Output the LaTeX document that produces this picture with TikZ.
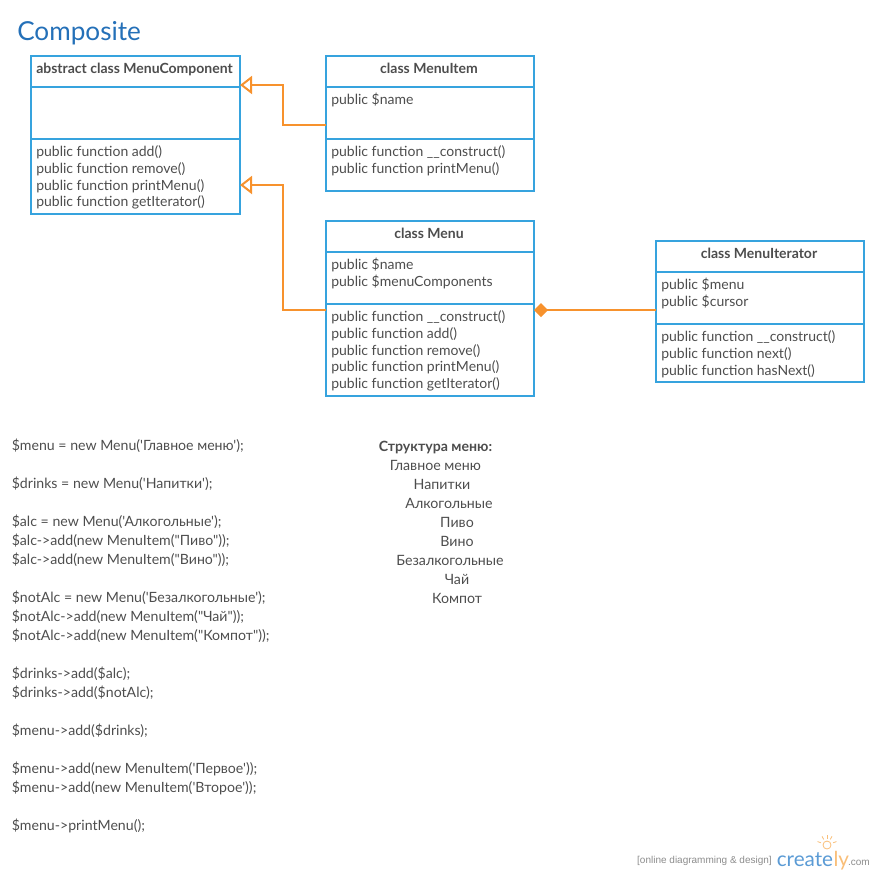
\documentclass[tikz,border=0pt]{standalone}
\usepackage{fontspec}
\setmainfont{Lato}[Ligatures=TeXOff]
\newfontfamily\logofont{Liberation Sans}
\usetikzlibrary{arrows.meta}
\definecolor{boxblue}{HTML}{36A3DE}
\definecolor{linkorange}{HTML}{F7922D}
\definecolor{txt}{HTML}{4D4D4D}
\definecolor{titleblue}{HTML}{2470B8}
\definecolor{logoblue}{HTML}{5B9BD5}
\definecolor{logoorange}{HTML}{F9BE78}
\tikzset{
  umlbox/.style={draw=boxblue,line width=1.5pt,fill=white,anchor=north west,inner sep=0pt,outer sep=0pt},
  divider/.style={draw=boxblue,line width=1.5pt},
  head/.style={anchor=base,font=\fontsize{10.5pt}{12pt}\selectfont\bfseries,text=txt,inner sep=0pt},
  body/.style={anchor=base west,font=\fontsize{10.5pt}{12pt}\selectfont,text=txt,inner sep=0pt},
  code/.style={anchor=base west,font=\fontsize{10.6pt}{12pt}\selectfont,text=txt,inner sep=0pt},
  ctr/.style={anchor=base,font=\fontsize{10.65pt}{12pt}\selectfont,text=txt,inner sep=0pt},
  gen/.style={draw=linkorange,line width=1.5pt,-{Triangle[open,fill=white,length=9pt,width=13.5pt,line width=1.5pt]}},
  comp/.style={draw=linkorange,line width=1.5pt,{Diamond[fill=linkorange,length=10.5pt,width=10.5pt]}-},
}
\begin{document}
\begin{tikzpicture}[x=0.75pt,y=-0.75pt]
\useasboundingbox (0,0) rectangle (875,875);
\node[anchor=base west,inner sep=0pt,text=titleblue,font=\fontsize{19.6pt}{22pt}\selectfont] (title) at (17,40) {Composite};
% MenuComponent
\node[umlbox,minimum width=156.75pt,minimum height=118.5pt] (mc) at (31,56) {};
\draw[divider] (31,87) -- (240,87) (31,139) -- (240,139);
\node[head] (mcH) at (134.5,73) {abstract class MenuComponent};
\node[body] (mc1) at (36,156) {public function add()};
\node[body] (mc2) at (36,173) {public function remove()};
\node[body] (mc3) at (36,190) {public function printMenu()};
\node[body] (mc4) at (36,206) {public function getIterator()};
% MenuItem
\node[umlbox,minimum width=156pt,minimum height=101.25pt] (item) at (326,56) {};
\draw[divider] (326,87) -- (534,87) (326,139) -- (534,139);
\node[head] (itemH) at (429,73) {class MenuItem};
\node[body] (item1) at (331,104) {public \$name};
\node[body] (item2) at (331,156) {public function \_\_construct()};
\node[body] (item3) at (331,173) {public function printMenu()};
% Menu
\node[umlbox,minimum width=156pt,minimum height=131.25pt] (menu) at (326,221) {};
\draw[divider] (326,252) -- (534,252) (326,304) -- (534,304);
\node[head] (menuH) at (429,238) {class Menu};
\node[body] (menu1) at (331,269) {public \$name};
\node[body] (menu2) at (331,286) {public \$menuComponents};
\node[body] (menu3) at (331,321) {public function \_\_construct()};
\node[body] (menu4) at (331,338) {public function add()};
\node[body] (menu5) at (331,355) {public function remove()};
\node[body] (menu6) at (331,371) {public function printMenu()};
\node[body] (menu7) at (331,388) {public function getIterator()};
% MenuIterator
\node[umlbox,minimum width=156pt,minimum height=105.75pt] (iter) at (656,241) {};
\draw[divider] (656,272) -- (864,272) (656,324) -- (864,324);
\node[head] (iterH) at (759,258) {class MenuIterator};
\node[body] (iter1) at (661,289) {public \$menu};
\node[body] (iter2) at (661,306) {public \$cursor};
\node[body] (iter3) at (661,341) {public function \_\_construct()};
\node[body] (iter4) at (661,358) {public function next()};
\node[body] (iter5) at (661,375) {public function hasNext()};
% connectors
\coordinate (mcTop) at (mc.east |- 0,85);
\coordinate (mcLow) at (mc.east |- 0,185);
\coordinate (itemW) at (item.west |- 0,125);
\coordinate (menuW) at (menu.west |- 0,310);
\coordinate (menuE) at (menu.east |- 0,310);
\coordinate (iterW) at (iter.west |- 0,310);
\draw[gen] (itemW) -- (283,125) -- (283,85) -- (mcTop);
\draw[gen] (menuW) -- (283,310) -- (283,185) -- (mcLow);
\draw[comp] (menuE) -- (iterW);
% code
\foreach \n/\yy/\t in {
 c1/450/{\$menu = new Menu('Главное меню');},
 c2/488/{\$drinks = new Menu('Напитки');},
 c3/526/{\$alc = new Menu('Алкогольные');},
 c4/545/{\$alc->add(new MenuItem("Пиво"));},
 c5/564/{\$alc->add(new MenuItem("Вино"));},
 c6/602/{\$notAlc = new Menu('Безалкогольные');},
 c7/621/{\$notAlc->add(new MenuItem("Чай"));},
 c8/640/{\$notAlc->add(new MenuItem("Компот"));},
 c9/678/{\$drinks->add(\$alc);},
 c10/697/{\$drinks->add(\$notAlc);},
 c11/735/{\$menu->add(\$drinks);},
 c12/773/{\$menu->add(new MenuItem('Первое'));},
 c13/792/{\$menu->add(new MenuItem('Второе'));},
 c14/830/{\$menu->printMenu();}}
 {\node[code] (\n) at (11.5,\yy) {\t};}
% tree
\node[ctr,font=\fontsize{10.6pt}{12pt}\selectfont\bfseries] (t0) at (435.5,451) {Структура меню:};
\node[ctr] (t1) at (435.5,470) {Главное меню};
\node[ctr] (t2) at (442,489) {Напитки};
\node[ctr] (t3) at (449,508) {Алкогольные};
\node[ctr] (t4) at (457,527) {Пиво};
\node[ctr] (t5) at (457,546) {Вино};
\node[ctr] (t6) at (450,565) {Безалкогольные};
\node[ctr] (t7) at (457,584) {Чай};
\node[ctr] (t8) at (457,603) {Компот};
% logo
\node[anchor=base east,inner sep=0pt,text=black!45,font=\logofont\fontsize{7.5pt}{8pt}\selectfont] (lg1) at (772,863) {[online diagramming \& design]};
\node[anchor=base west,inner sep=0pt,text=logoblue,font=\fontsize{15.5pt}{20pt}\selectfont] (lg2) at (776.5,866) {create};
\node[anchor=base west,inner sep=0pt,text=logoorange,font=\fontsize{15.5pt}{20pt}\selectfont] (lg3) at (lg2.base east) {ly};
\node[anchor=base east,inner sep=0pt,text=black!45,font=\logofont\fontsize{7.5pt}{8pt}\selectfont] (lg5) at (870,865) {.com};
\draw[logoorange,line width=0.6pt] (827,845) circle (4);
\foreach \a in {20,60,90,120,160}
  \draw[logoorange,line width=0.6pt] (827,845) ++(\a:-6.5) -- ++(\a:-3.5);
\end{tikzpicture}
\end{document}
